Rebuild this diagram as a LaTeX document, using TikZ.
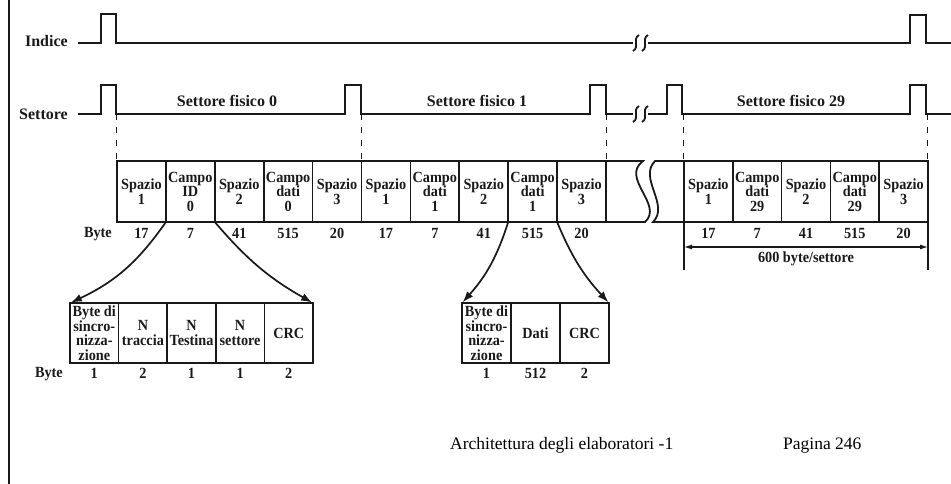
\documentclass[tikz,border=0pt]{standalone}
\usepackage{fontspec}
\setmainfont{Liberation Serif}
\newfontfamily\cellfam[FakeStretch=0.92]{Liberation Serif}
\usetikzlibrary{arrows.meta, positioning}
\definecolor{colInk}{RGB}{25,25,25}
\newcommand{\cellfont}{\cellfam\fontsize{15.5}{14.5}\selectfont\bfseries}
\newcommand{\tagfont}{\fontsize{16}{16}\selectfont\bfseries}
\newcommand{\footfont}{\fontsize{17.5}{20}\selectfont}
% two squiggles where a signal is broken
\newcommand{\brk}[2]{%
  \draw[sig] (#1+3,#2+8) .. controls (#1-4,#2+4) and (#1+4,#2-4) .. (#1-3,#2-8);
  \draw[sig] (#1+12,#2+8) .. controls (#1+5,#2+4) and (#1+13,#2-4) .. (#1+6,#2-8);}
\tikzset{
  cell/.style={
    rectangle, draw=colInk, line width=1.7pt, text=colInk,
    minimum width=48.9pt, minimum height=61pt,
    inner sep=0pt, outer sep=0pt, align=center, font=\cellfont
  },
  subcell/.style={
    cell, minimum width=48.6pt, minimum height=60pt
  },
  bytenum/.style={
    font=\cellfont, text=colInk, anchor=base, inner sep=0pt
  },
  tagtext/.style={
    font=\tagfont, text=colInk, inner sep=0pt
  },
  sig/.style={
    line width=1.8pt, draw=colInk
  },
  guide/.style={
    draw=colInk, line width=1pt, dash pattern=on 6pt off 7pt
  },
  arr/.style={
    -{Latex[length=11pt,width=8pt]}, line width=1.7pt, draw=colInk
  },
  dimarr/.style={
    {Latex[length=8pt,width=5pt]}-{Latex[length=8pt,width=5pt]},
    line width=1.1pt, draw=colInk
  }
}
\begin{document}
\begin{tikzpicture}[x=1pt, y=1pt]
  \useasboundingbox (0,0) rectangle (951,-484);
  \draw[line width=2.4pt, colInk] (9,0) -- (9,-484);

  % signals
  \node[tagtext, anchor=base east] (indice) at (68,-47) {Indice};
  \node[tagtext, anchor=base east] (settore) at (68,-120) {Settore};
  \draw[sig] (78,-43) -- (101,-43) |- (116,-14) |- (633,-43);
  \brk{636}{-43}
  \draw[sig] (648,-43) -- (910,-43) |- (926,-15) |- (951,-43);
  \draw[sig] (78,-114) -- (101,-114) |- (116,-85) |- (345,-114) |- (361,-85)
    |- (590,-114) |- (606,-85) |- (633,-114);
  \brk{636}{-114}
  \draw[sig] (648,-114) -- (667,-114) |- (682,-85) |- (910,-114) |- (926,-85) |- (951,-114);
  \node[tagtext, anchor=base] (sf0) at (227,-107) {Settore fisico 0};
  \node[tagtext, anchor=base] (sf1) at (477,-107) {Settore fisico 1};
  \node[tagtext, anchor=base] (sf29) at (791,-107) {Settore fisico 29};

  % track cells
  \foreach \t [count=\i] in {{Spazio\\1},{Campo\\ID\\0},{Spazio\\2},{Campo\\dati\\0},{Spazio\\3},
      {Spazio\\1},{Campo\\dati\\1},{Spazio\\2},{Campo\\dati\\1},{Spazio\\3}}
    \node[cell] (c\i) at ({117+48.9*(\i-0.5)},-191.5) {\t};
  \foreach \t [count=\i] in {{Spazio\\1},{Campo\\dati\\29},{Spazio\\2},{Campo\\dati\\29},{Spazio\\3}}
    \node[cell, minimum width=48.8pt] (r\i) at ({684+48.8*(\i-0.5)},-191.5) {\t};
  \draw[sig] (c10.north east) -- (643,-161) .. controls (620,-178) and (664,-205) .. (645,-222)
    -- (c10.south east);
  \draw[sig] (r1.north west) -- (655,-161) .. controls (638,-178) and (670,-205) .. (653,-222)
    -- (r1.south west);

  % guides from the sector pulses
  \foreach \p/\c in {116/c1, 361/c6, 606/c10, 683/r1, 927/r5}{
    \coordinate (g) at (\p,-114);
    \draw[guide] (g) -- (g |- \c.north);
  }

  % byte counts
  \coordinate (row1) at (0,-238);
  \coordinate (row2) at (0,-378);
  \node[bytenum, anchor=base east] (byte) at (112,-237) {Byte};
  \foreach \n [count=\i] in {17,7,41,515,20,17,7,41,515,20}
    \node[bytenum] at (c\i |- row1) {\n};
  \foreach \n [count=\i] in {17,7,41,515,20}
    \node[bytenum] at (r\i |- row1) {\n};
  \draw[line width=1.1pt, colInk] (r1.south west) -- ++(0,-48);
  \draw[line width=1.1pt, colInk] (r5.south east) -- ++(0,-48);
  \draw[dimarr] ([yshift=-25pt]r1.south west) -- ([yshift=-25pt]r5.south east);
  \node[bytenum] (tot) at (806,-262) {600 byte/settore};

  % ID field
  \foreach \t [count=\i] in {{Byte di\\sincro-\\nizza-\\zione},{N\\traccia},{N\\Testina},{N\\settore},{CRC}}
    \node[subcell] (a\i) at ({70+48.6*(\i-0.5)},-333) {\t};
  \node[bytenum, anchor=base east] (byteid) at (63,-377) {Byte};
  \foreach \n [count=\i] in {1,2,1,1,2}
    \node[bytenum] at (a\i |- row2) {\n};

  % data field
  \foreach \t [count=\i] in {{Byte di\\sincro-\\nizza-\\zione},{Dati},{CRC}}
    \node[subcell, minimum width=49pt] (b\i) at ({462+49*(\i-0.5)},-333) {\t};
  \foreach \n [count=\i] in {1,512,2}
    \node[bytenum] at (b\i |- row2) {\n};

  \draw[arr, shorten >=1pt] (c2.south west) to[bend left=15] (a1.north west);
  \draw[arr, shorten >=1pt] (c2.south east) to[bend right=10] (a5.north east);
  \draw[arr, shorten >=1pt] (c9.south west) to[bend left=12] (b1.north west);
  \draw[arr, shorten >=1pt] (c9.south east) to[bend right=10] (b3.north east);

  % footer
  \node[font=\footfont, anchor=base west, inner sep=0pt] (course) at (450,-449) {Architettura degli elaboratori -1};
  \node[font=\footfont, anchor=base west, inner sep=0pt] (page) at (783,-449) {Pagina 246};
\end{tikzpicture}
\end{document}
